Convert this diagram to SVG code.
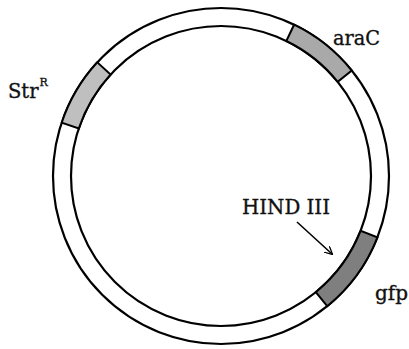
<svg xmlns="http://www.w3.org/2000/svg" width="409" height="349" viewBox="0 0 409 349">
<style>
.seg{stroke:#000;stroke-width:2}
.ring{fill:none;stroke:#000;stroke-width:2.2}
.lbl{font-family:"DejaVu Serif","Liberation Serif",serif;font-size:19.5px;fill:#111;stroke:#111;stroke-width:0.35}
</style>
<defs>
<marker id="ah" viewBox="0 0 10 10" refX="9" refY="5" markerWidth="8" markerHeight="8" markerUnits="userSpaceOnUse" orient="auto">
<path d="M0,0 L10,5 L0,10" fill="none" stroke="#000" stroke-width="1.6"/>
</marker>
</defs>
<rect width="409" height="349" fill="#fff"/>
<g id="plasmid">
<circle class="ring" cx="221" cy="176" r="168"/>
<circle class="ring" cx="221" cy="176" r="150"/>
</g>
<g id="araC">
<path class="seg" fill="#a9a9a9" d="M294.1,24.7 A168,168 0 0 1 351.7,70.5 L337.7,81.8 A150,150 0 0 0 286.3,41 Z"/>
<text class="lbl" x="333" y="45" textLength="47" lengthAdjust="spacingAndGlyphs">araC</text>
</g>
<g id="StrR">
<path class="seg" fill="#bfbfbf" d="M61.7,122.7 A168,168 0 0 1 97.3,62.3 L110.6,74.5 A150,150 0 0 0 78.8,128.4 Z"/>
<text class="lbl" x="8" y="98">Str<tspan font-size="11" dy="-12" dx="1">R</tspan></text>
</g>
<g id="gfp">
<path class="seg" fill="#7f7f7f" d="M377.4,237.3 A168,168 0 0 1 327.2,306.2 L315.8,292.2 A150,150 0 0 0 360.7,230.7 Z"/>
<text class="lbl" x="375" y="300" textLength="33" lengthAdjust="spacingAndGlyphs">gfp</text>
</g>
<g id="hind3">
<text class="lbl" x="242" y="214" textLength="88" lengthAdjust="spacingAndGlyphs">HIND III</text>
</g>
<g id="connectors">
<line x1="297" y1="222" x2="332" y2="254" stroke="#000" stroke-width="1.6" marker-end="url(#ah)"/>
</g>
</svg>
